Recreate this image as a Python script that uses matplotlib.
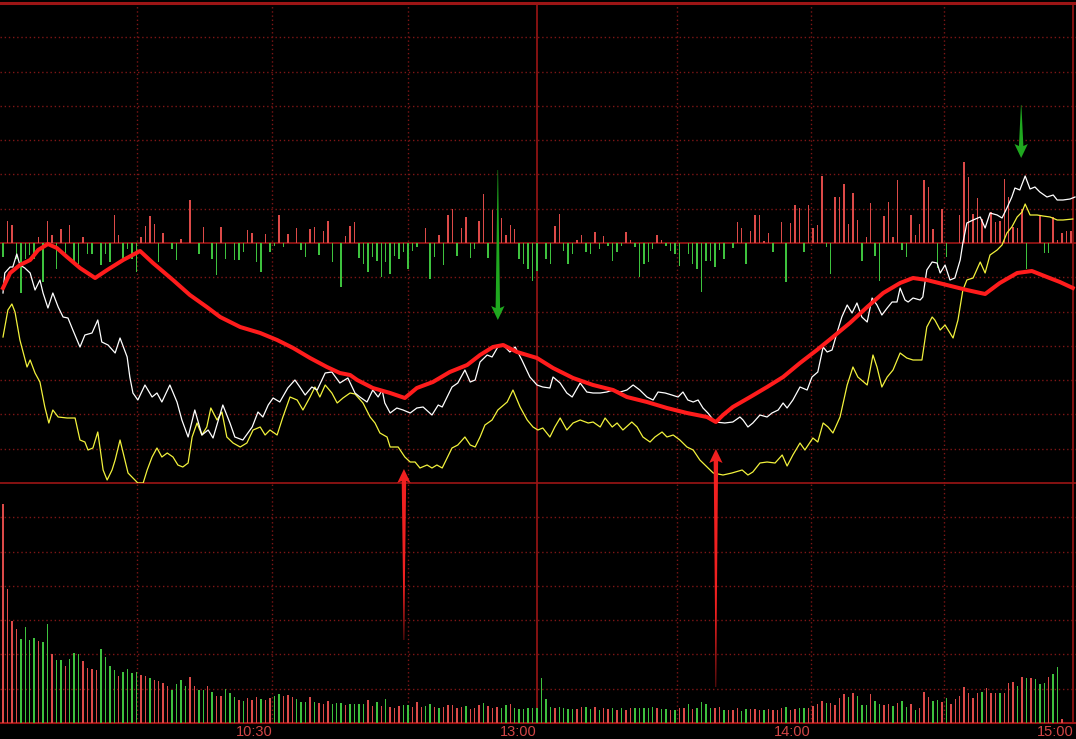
import numpy as np
import matplotlib.pyplot as plt

# time axis: minutes after 9:30, the afternoon session continues at 120 (= 13:00)
tick_t = [60.5, 120, 181.5, 240.5]
tick_labels = ['10:30', '13:00', '14:00', '15:00']
grid_t = [30, 60.5, 91, 151.5, 181.5, 211.5]

# (minute, level) samples, level 0 = centre line
white_line = [
    (0, -50), (0.4, -30), (1.6, -24), (2.2, -24), (3.1, -11), (3.8, -22), (4.9, -25), (6.1, -30), (7.2, -47), (8.3, -37),
    (9.0, -50), (10.1, -65), (11.2, -50), (12.4, -64), (13.5, -74), (14.6, -75), (15.7, -87), (17.3, -104), (18.4, -92), (20.0, -90),
    (21.3, -77), (22.2, -99), (23.6, -102), (25.2, -110), (26.3, -95), (27.9, -114), (28.5, -134), (29.2, -150), (30.3, -157), (31.9, -142),
    (33.5, -154), (34.6, -150), (35.7, -159), (37.5, -142), (39.1, -159), (40.2, -177), (41.6, -194), (43.1, -167), (44.7, -192), (46.1, -187),
    (47.2, -195), (49.4, -162), (51.0, -180), (52.1, -194), (53.9, -197), (56.0, -184), (57.3, -169), (58.4, -174), (59.6, -162), (60.7, -155),
    (62.2, -159), (64.0, -145), (65.6, -137), (66.7, -144), (67.9, -152), (69.4, -144), (70.6, -147), (72.4, -130), (73.9, -129), (75.7, -140),
    (77.5, -135), (79.1, -150), (80.2, -154), (81.8, -159), (83.1, -147), (84.3, -154), (85.2, -147), (85.8, -160), (87.0, -170), (88.5, -165),
    (89.9, -167), (91.5, -170), (93.0, -165), (94.4, -164), (96.4, -172), (97.8, -162), (98.7, -164), (99.8, -154), (100.9, -144), (102.2, -140),
    (103.8, -127), (105.0, -139), (106.1, -137), (107.2, -119), (108.8, -112), (109.9, -114), (111.2, -104), (112.4, -102), (113.9, -109), (115.1, -104),
    (116.6, -117), (118.4, -134), (120.0, -142), (121.3, -144), (122.9, -145), (123.6, -134), (125.2, -140), (126.7, -150), (127.9, -154), (129.7, -140),
    (131.2, -149), (132.6, -150), (134.2, -150), (135.7, -149), (137.1, -147), (138.7, -149), (140.2, -147), (141.6, -142), (143.1, -147), (144.7, -154),
    (146.1, -157), (147.2, -149), (148.8, -150), (150.3, -152), (151.7, -154), (152.8, -149), (153.9, -157), (155.1, -159), (156.2, -157), (157.3, -165),
    (158.4, -170), (160.0, -179), (162.2, -180), (164.0, -179), (165.6, -174), (166.3, -177), (167.4, -184), (168.5, -180), (170.1, -172), (171.7, -174),
    (172.8, -170), (174.2, -167), (175.3, -160), (176.2, -165), (177.5, -157), (179.1, -144), (180.7, -147), (181.8, -134), (183.1, -129), (184.3, -104),
    (185.2, -109), (186.3, -107), (187.4, -90), (188.5, -74), (189.7, -62), (190.8, -70), (191.9, -60), (193.0, -74), (194.2, -79), (195.3, -55),
    (196.4, -62), (197.5, -72), (198.7, -65), (199.8, -59), (200.9, -59), (201.6, -45), (202.7, -57), (203.4, -59), (204.5, -55), (206.1, -57),
    (206.7, -54), (207.6, -27), (208.8, -19), (209.9, -20), (210.6, -30), (211.7, -22), (212.8, -37), (213.9, -35), (215.1, -17), (215.7, 0),
    (216.6, 20), (218.0, 23), (219.6, 26), (220.7, 15), (221.8, 30), (223.4, 28), (224.5, 25), (225.6, 35), (226.7, 46), (227.4, 55),
    (228.5, 53), (229.7, 67), (230.8, 54), (231.9, 56), (233.0, 51), (234.6, 46), (236.0, 48), (236.9, 43), (238.2, 43), (239.8, 44), (240.9, 46),
]

yellow_line = [
    (0, -94), (1.1, -67), (2.0, -61), (2.7, -69), (3.8, -97), (5.4, -124), (6.1, -117), (7.2, -130), (8.3, -139), (9.4, -164),
    (10.3, -180), (11.2, -167), (12.4, -174), (14.4, -175), (16.2, -175), (17.3, -197), (18.4, -199), (19.1, -207), (20.2, -205), (21.3, -189),
    (22.5, -227), (23.4, -237), (24.5, -227), (25.2, -217), (26.3, -197), (27.4, -217), (28.1, -230), (29.2, -235), (30.3, -240), (31.5, -240),
    (32.4, -227), (33.5, -214), (34.6, -205), (35.7, -214), (36.9, -210), (38.2, -214), (39.3, -222), (40.4, -224), (41.6, -220), (42.5, -194),
    (43.6, -180), (44.7, -192), (45.8, -184), (46.7, -165), (48.1, -177), (49.2, -169), (50.3, -194), (51.7, -200), (53.3, -204), (54.8, -200),
    (56.2, -187), (57.8, -184), (58.9, -192), (60.0, -187), (61.6, -192), (62.9, -174), (64.5, -154), (66.1, -157), (67.4, -167), (69.0, -154),
    (70.1, -144), (71.2, -154), (72.4, -142), (73.9, -150), (75.1, -160), (76.4, -155), (78.0, -150), (79.1, -151), (80.9, -160), (82.5, -174),
    (83.6, -180), (84.7, -190), (86.3, -194), (87.0, -204), (88.8, -204), (90.3, -214), (91.5, -219), (92.6, -219), (93.7, -225), (95.3, -222),
    (96.4, -225), (97.5, -222), (98.7, -225), (99.8, -215), (100.9, -205), (102.2, -202), (103.8, -194), (105.0, -202), (106.1, -204), (107.2, -194),
    (108.3, -182), (109.9, -177), (111.2, -167), (113.3, -159), (114.6, -147), (116.2, -164), (117.8, -177), (119.1, -184), (120.2, -187), (121.3, -185),
    (122.9, -194), (124.0, -184), (125.2, -175), (126.7, -187), (128.1, -180), (129.7, -177), (131.5, -180), (132.6, -179), (134.2, -184), (135.3, -175),
    (136.9, -184), (138.0, -180), (139.3, -187), (141.3, -179), (142.5, -184), (143.8, -194), (145.4, -199), (146.5, -194), (148.1, -189), (149.2, -194),
    (150.6, -192), (152.1, -197), (153.7, -204), (155.1, -207), (156.6, -217), (158.2, -224), (159.6, -230), (161.8, -232), (163.8, -230), (166.1, -227),
    (167.4, -232), (168.5, -229), (170.1, -220), (171.7, -219), (173.5, -220), (175.1, -212), (176.2, -223), (177.5, -212), (179.1, -200), (180.2, -207),
    (182.0, -195), (183.1, -199), (184.3, -180), (185.4, -184), (186.5, -190), (188.1, -174), (189.7, -142), (191.0, -124), (192.1, -134), (194.2, -142),
    (195.5, -112), (196.4, -124), (197.5, -144), (198.7, -134), (200.0, -127), (201.6, -110), (203.1, -115), (204.5, -117), (206.5, -117), (207.6, -84),
    (208.8, -74), (209.4, -77), (210.6, -87), (211.7, -82), (213.5, -95), (214.6, -77), (215.7, -47), (216.6, -37), (218.0, -35), (219.6, -19),
    (220.7, -30), (221.8, -12), (223.4, -7), (224.5, -2), (225.6, 10), (226.7, 16), (227.9, 26), (229.0, 31), (229.7, 39), (230.8, 28),
    (232.4, 28), (233.7, 27), (235.3, 26), (236.9, 23), (238.2, 23), (240.4, 24),
]

red_line = [
    (0, -45), (1.6, -30), (3.8, -22), (6.1, -17), (7.9, -7), (10.1, -1), (12.1, -5), (14.4, -14), (17.3, -25), (20.7, -35),
    (23.4, -27), (27.0, -17), (30.8, -8), (33.7, -20), (38.2, -37), (42.0, -52), (45.8, -64), (48.8, -74), (53.3, -84), (57.8, -90),
    (61.6, -97), (65.2, -105), (69.0, -115), (72.8, -124), (75.7, -130), (78.0, -132), (79.6, -137), (83.1, -145), (87.0, -150), (90.3, -155),
    (93.0, -145), (96.6, -139), (100.4, -129), (104.3, -122), (107.2, -112), (110.1, -104), (112.4, -102), (115.5, -109), (120.0, -115), (123.6, -125),
    (128.1, -135), (132.6, -142), (137.1, -147), (140.2, -154), (144.7, -159), (149.2, -165), (153.7, -170), (158.2, -174), (160.2, -179), (161.8, -172),
    (164.0, -164), (167.9, -154), (171.7, -144), (175.3, -134), (179.1, -120), (182.9, -107), (186.5, -94), (190.3, -80), (194.2, -64), (197.8, -50),
    (201.6, -40), (204.5, -35), (207.6, -37), (212.1, -42), (216.6, -47), (220.7, -51), (224.0, -40), (227.9, -30), (231.2, -28), (234.6, -34),
    (237.5, -39), (240.4, -45),
]

# buy / sell bars around the centre line (minute: value)
flow = {
    0: -14, 1: 22, 2: 18, 3: -16, 4: -50, 5: -16, 6: -12, 7: -16, 8: 6, 9: -39, 10: 22, 11: 8, 12: -26, 13: 14, 14: -10,
    15: 18, 16: -21, 17: -21, 18: 6, 19: -11, 20: -11, 22: -22, 23: -11, 24: -19, 25: 28, 26: 8, 27: -16, 28: -6, 29: -16,
    30: -29, 31: 6, 32: 17, 33: 27, 34: 19, 35: -19, 36: 10, 38: -6, 39: -17, 40: 4, 42: 43, 44: -11, 45: 16, 47: -16,
    48: -32, 49: 16, 50: -16, 52: -17, 53: -17, 54: -9, 55: 13, 56: 10, 57: -19, 58: -29, 59: 9, 60: -9, 61: -3, 62: 28,
    63: -4, 64: 9, 66: 15, 67: -7, 68: -14, 69: 14, 70: 16, 71: -12, 72: 12, 73: 22, 74: -19, 76: -44, 77: 7, 78: 17,
    79: 21, 80: -15, 81: -21, 82: -29, 83: -14, 84: -18, 85: -34, 86: -19, 87: -31, 88: -13, 89: -16, 90: -9, 91: -26,
    92: -8, 93: -4, 95: 15, 96: -36, 97: -14, 98: 8, 99: -22, 100: 28, 101: 34, 102: -13, 103: 15, 104: 26, 105: -15,
    106: -6, 107: 22, 108: 49, 109: -15, 110: 33, 112: 25, 113: 8, 114: 18, 115: 14, 116: -16, 117: -21, 118: -26,
    119: -38, 120: -28, 122: -16, 123: -21, 124: 17, 125: 29, 126: -8, 127: -21, 128: -11, 129: 3, 130: 8, 131: -9,
    132: -11, 133: 11, 134: -6, 135: 7, 136: -3, 137: -18, 138: -9, 139: -3, 140: 11, 141: 3, 142: -4, 143: -34,
    144: -21, 145: -19, 146: -6, 147: 8, 148: 3, 149: -3, 150: -8, 151: -11, 152: -23, 154: -11, 155: -21, 156: -26,
    157: -49, 158: -18, 159: -18, 160: -24, 161: -7, 162: -16, 164: -5, 165: 21, 166: 15, 167: -21, 168: 12, 169: 28,
    170: 28, 171: 2, 172: 10, 173: -9, 175: 21, 176: -39, 177: 20, 178: 38, 179: 35, 180: -9, 181: 38, 182: 15, 183: 18,
    184: 67, 185: -4, 186: -31, 187: 46, 188: 46, 189: 59, 190: 19, 191: 50, 192: 23, 193: -18, 194: 6, 195: 40,
    196: -13, 197: -38, 198: 27, 199: 41, 200: 6, 201: 63, 202: -7, 203: -14, 204: 28, 205: 8, 206: 19, 207: 63,
    208: 56, 209: 14, 210: -25, 211: 34, 212: -14, 215: 28, 216: 81, 217: 66, 218: 29, 219: 45, 220: 24, 222: 31,
    223: 21, 224: 22, 225: 64, 226: 46, 227: 16, 228: 15, 229: 34, 230: -26, 233: 27, 234: -10, 235: -10, 236: 26,
    237: 3, 238: 10, 239: 12, 240: 12,
}

# volume per minute, r = up bar, g = down bar
volume = [
    219, 134, 102, 94, 84, 96, 83, 85, 82, 81, 99, 69, 63, 63, 57, 64, 70, 69, 62, 55,
    54, 53, 74, 66, 57, 53, 47, 51, 54, 50, 51, 48, 47, 45, 43, 42, 40, 37, 33, 39,
    43, 37, 46, 37, 33, 33, 37, 31, 27, 27, 34, 30, 26, 23, 22, 25, 23, 26, 24, 23,
    25, 27, 29, 27, 28, 26, 24, 21, 21, 26, 21, 20, 19, 22, 19, 20, 20, 18, 19, 19,
    19, 19, 23, 17, 21, 17, 24, 16, 15, 17, 18, 18, 16, 21, 16, 17, 19, 16, 15, 16,
    18, 18, 15, 16, 17, 14, 15, 18, 20, 17, 15, 16, 15, 18, 19, 15, 14, 14, 15, 15,
    15, 45, 24, 16, 15, 16, 15, 14, 14, 14, 16, 16, 14, 16, 13, 15, 14, 15, 13, 15,
    13, 15, 15, 15, 15, 15, 16, 15, 14, 14, 13, 13, 15, 15, 19, 14, 15, 21, 19, 15,
    15, 16, 13, 13, 13, 15, 12, 14, 14, 14, 13, 13, 14, 13, 13, 15, 16, 13, 14, 15,
    15, 15, 17, 19, 22, 20, 20, 18, 25, 29, 26, 30, 27, 18, 18, 29, 22, 19, 18, 19,
    17, 20, 22, 16, 19, 13, 15, 31, 26, 22, 23, 21, 25, 19, 24, 27, 36, 30, 25, 30,
    31, 35, 30, 30, 30, 30, 40, 41, 37, 46, 45, 45, 44, 39, 40, 46, 49, 56, 4,
]
volume_side = (
    "rrrrggggrg" "grggrgggrr" "rrggggrggg" "grrgrrrrgg" "ggrrggrgrr" "gggrgrrrgr" "rggrrrgggr" "grrrgggrgg"
    "ggrrgrgrrr" "ggrrrggrgr" "rrrrgrrrgr" "rrggrggggg"
    "ggggrggggr" "rggrgrrgrg" "rrgggggrgg" "rgrrgrgggg" "rrgrrrggrr" "rgrrrrgrrg" "grrrrgrrrr" "grgggrggrr"
    "grggrgrrrg" "grgrrrrrrr" "grrrgrrrgr" "grgggrggr"
)

# hand-drawn arrows: minute, tail level, tip level, colour
arrow_t = [111.2, 228.8, 90.1, 160.2]
arrow_from = [73, 138, -397, -444]
arrow_to = [-77, 85, -226, -206]
arrow_color = ['#1fa81f', '#1fa81f', '#f02020', '#f02020']

plt.rcParams['font.family'] = ['Liberation Sans', 'DejaVu Sans']

W, H = 1076, 739
fig = plt.figure(figsize=(W / 100, H / 100), dpi=100, facecolor='black')
ax1 = fig.add_axes([0, 1 - 483 / H, 1, 480 / H], facecolor='black')
ax2 = fig.add_axes([0, 1 - 723 / H, 1, 240 / H], facecolor='black')
ax1.set_zorder(3)

x_lo, x_hi = -3 / 4.45, 1073 / 4.45
grid_red = '#7e1616'
solid_red = '#9c1515'
up_col = '#dc4a48'
down_col = '#3ec23e'
step = 240 / 7

for ax in (ax1, ax2):
    ax.set_xlim(x_lo, x_hi)
    for s in ax.spines.values():
        s.set_visible(False)
    ax.set_yticks([])
    for t in grid_t:
        ax.axvline(t, color=grid_red, lw=1, ls=(0, (1, 2)), zorder=0)
    ax.axvline(120, color=solid_red, lw=1.2, zorder=0.5)
    ax.axvline(240.5, color=solid_red, lw=1.2, zorder=0.5)

ax1.set_ylim(-240, 240)
ax2.set_ylim(0, 240)
ax1.set_xticks([])

for k in range(1, 7):
    ax1.axhline(k * step, color=grid_red, lw=1, ls=(0, (1, 2)), zorder=0)
    ax1.axhline(-k * step, color=grid_red, lw=1, ls=(0, (1, 2)), zorder=0)
    ax2.axhline(k * step, color=grid_red, lw=1, ls=(0, (1, 2)), zorder=0)

ax1.axhline(240, color=solid_red, lw=2.2, clip_on=False)
ax1.axhline(0, color=solid_red, lw=1.2, zorder=1)
ax1.axhline(-240, color=solid_red, lw=1.2, clip_on=False)
ax2.axhline(0, color=solid_red, lw=1.5, clip_on=False)

# buy / sell bars
ft = list(flow.keys())
fv = list(flow.values())
ax1.bar(ft, fv, width=0.32, color=[up_col if v > 0 else down_col for v in fv], linewidth=0, zorder=2)

# lines
wt, wv = zip(*white_line)
yt, yv = zip(*yellow_line)
rt, rv = zip(*red_line)
ax1.plot(yt, yv, color='#f2f23c', lw=0.9, zorder=3)
ax1.plot(wt, wv, color='white', lw=0.9, zorder=4)
ax1.plot(rt, rv, color='#ff1c1c', lw=2.9, zorder=5, solid_joinstyle='round')

# volume
vt = np.arange(len(volume))
ax2.bar(vt, volume, width=0.32, color=[up_col if c == 'r' else down_col for c in volume_side],
        linewidth=0, zorder=2)

ax2.set_xticks(tick_t, tick_labels)
ax2.tick_params(axis='x', length=0, pad=1.5, colors='#d24646', labelsize=10.5)
for lbl in ax2.get_xticklabels():
    lbl.set_horizontalalignment('right')

# tapered arrows: needle-thin tail widening toward a broad head
head_len = 12
for t, a, b, c in zip(arrow_t, arrow_from, arrow_to, arrow_color):
    d = 1 if b > a else -1
    base = b - d * head_len
    xs = [t - 0.05, t - 0.5, t - 1.5, t, t + 1.5, t + 0.5, t + 0.05]
    ys = [a, base, base - d * 2, b, base - d * 2, base, a]
    ax1.fill(xs, ys, color=c, lw=0, clip_on=False, zorder=10)

fig.savefig('out.png', dpi=100, facecolor='black')
